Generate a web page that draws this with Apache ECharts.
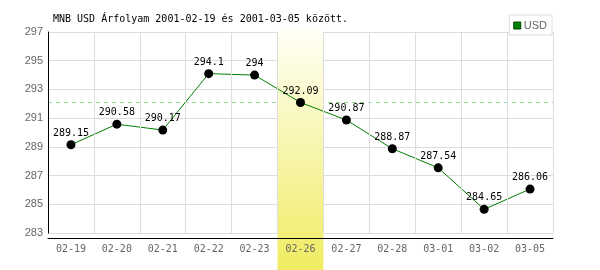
<!DOCTYPE html>
<html><head><meta charset="utf-8">
<script src="https://cdn.jsdelivr.net/npm/echarts@6/dist/echarts.min.js"></script>
<style>html,body{margin:0;padding:0;background:#fff}#c{width:600px;height:270px}</style>
</head><body><div id="c"></div>
<script>
const titleText = 'MNB USD Árfolyam 2001-02-19 és 2001-03-05 között.';
const seriesName = 'USD';
const categories = ['02-19','02-20','02-21','02-22','02-23','02-26','02-27','02-28','03-01','03-02','03-05'];
const values = [289.15, 290.58, 290.17, 294.1, 294, 292.09, 290.87, 288.87, 287.54, 284.65, 286.06];
const highlightDay = '02-26';
const yMin = 283, yMax = 297, yStep = 2;

const hiIdx = categories.indexOf(highlightDay);
const bandData = categories.map((c, i) => i === hiIdx ? 1 : '-');
const mono = 'DejaVu Sans Mono';

const chart = echarts.init(document.getElementById('c'), null, {renderer: 'canvas'});
chart.setOption({
  animation: false,
  backgroundColor: '#fff',
  title: {
    text: titleText, left: 48, top: 9,
    textStyle: {fontFamily: mono, fontSize: 10, fontWeight: 'normal', color: '#000'}
  },
  legend: {
    data: [seriesName], right: 48, top: 15, orient: 'vertical',
    backgroundColor: '#fff', borderColor: '#ddd', borderWidth: 1, borderRadius: 0,
    padding: [5, 5, 4, 4], itemWidth: 7, itemHeight: 7, itemGap: 0, icon: 'rect',
    itemStyle: {color: '#008000', borderColor: '#004400', borderWidth: 1},
    textStyle: {fontFamily: 'Liberation Sans', fontSize: 11, color: '#666', padding: [0, 0, 0, -2]}
  },
  grid: [
    {left: 48, right: 47, top: 32, bottom: 37},
    {left: 48, right: 47, top: 30, bottom: 0}
  ],
  xAxis: [
    {
      type: 'category', data: categories, gridIndex: 0, offset: 5, z: 5,
      axisLine: {lineStyle: {color: '#000', width: 1}},
      axisTick: {show: false},
      axisLabel: {interval: 0, color: '#666', fontFamily: mono, fontSize: 10, margin: 6},
      splitLine: {show: true, interval: 0, lineStyle: {color: '#ddd', width: 1}}
    },
    {type: 'category', data: categories, gridIndex: 1, show: false}
  ],
  yAxis: [
    {
      type: 'value', gridIndex: 0, min: yMin, max: yMax, interval: yStep, z: 6,
      axisLine: {show: true, lineStyle: {color: '#000', width: 1}},
      axisTick: {show: false},
      axisLabel: {color: '#666', fontFamily: 'Liberation Sans', fontSize: 11, margin: 5},
      splitLine: {show: false}
    },
    {type: 'value', gridIndex: 1, min: 0, max: 1, show: false},
    {
      type: 'value', gridIndex: 0, min: yMin, max: yMax, interval: yStep, z: 0, position: 'left',
      axisLine: {show: false}, axisTick: {show: false}, axisLabel: {show: false},
      splitLine: {show: true, lineStyle: {color: '#ddd', width: 1}}
    }
  ],
  series: [
    {
      type: 'bar', xAxisIndex: 1, yAxisIndex: 1, data: bandData, barWidth: '100%', z: 2,
      silent: true, legendHoverLink: false,
      itemStyle: {color: new echarts.graphic.LinearGradient(0, 0, 0, 1, [
        {offset: 0, color: '#fffff6'}, {offset: 1, color: '#f0ec62'}])}
    },
    {
      name: seriesName, type: 'line', data: values, z: 3,
      lineStyle: {color: '#008000', width: 1},
      itemStyle: {color: '#000'},
      symbol: 'circle', symbolSize: 9,
      label: {show: true, position: 'top', distance: 2, color: '#000', fontFamily: mono, fontSize: 10},
      markLine: {
        silent: true, symbol: 'none', z: 1,
        label: {show: false},
        lineStyle: {color: '#99d699', type: [4, 4], width: 1},
        data: [{yAxis: values[hiIdx]}]
      }
    }
  ]
});
</script></body></html>
